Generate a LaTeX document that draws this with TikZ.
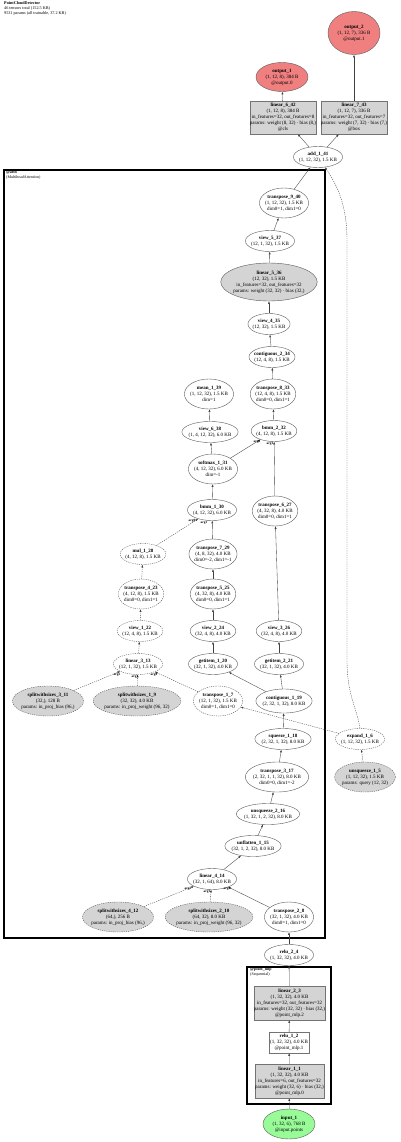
\documentclass[tikz,border=0pt]{standalone}
\usepackage{fontspec}
\setmainfont{Liberation Serif}
\usetikzlibrary{shapes.geometric}
\usetikzlibrary{arrows.meta}

\newcommand{\lbl}[2]{\textbf{#1}\\#2}

\begin{document}
\begin{tikzpicture}[x=1pt, y=-1pt, line width=0.4pt,
    opnode/.style={ellipse, draw=black!65, inner xsep=-1.5pt, inner ysep=0.5pt, minimum height=21, align=center, font=\fontsize{5}{6}\selectfont},
    tall/.style={minimum height=30},
    ghost/.style={dash pattern=on 1.2pt off 1pt},
    withpar/.style={fill=cpar},
    outnode/.style={opnode, fill=cout, minimum width=52},
    modbox/.style={rectangle, draw=black!55, fill=cpar, inner sep=0pt, minimum width=66, minimum height=33, align=center, font=\fontsize{5}{6}\selectfont},
    wire/.style={draw=black!75, line width=0.35pt, -{Latex[length=2.6pt, width=2pt]}},
    arglbl/.style={font=\fontsize{3.4}{4}\selectfont\bfseries, inner sep=0pt},
    clusterbox/.style={draw=black, line width=1.3pt},
    clusterlbl/.style={anchor=north west, align=left, inner sep=0pt, font=\fontsize{4}{4.6}\selectfont}]
    \colorlet{cpar}{black!17}\definecolor{cout}{HTML}{F08080}\definecolor{cin}{HTML}{98FB98}
    \useasboundingbox (0,0) rectangle (400,1142);
    \node[anchor=north west, align=left, inner sep=0pt, font=\fontsize{4.2}{5}\selectfont] (title) at (4,1)
      {\textbf{PointCloudDetector}\\46 tensors total (152.5 KB)\\9531 params (all trainable, 37.2 KB)};
    \draw[clusterbox] (4,170) rectangle (325,938);
    \node[clusterlbl] (attnlbl) at (6,171) {\textbf{@attn}\\(MultiheadAttention)};
    \draw[clusterbox] (247,967) rectangle (331,1104);
    \node[clusterlbl] (mlplbl) at (250,968) {\textbf{@point\_mlp}\\(Sequential)};
    \node[outnode, minimum height=43] (output2) at (354,33) {\lbl{output\_2}{(1, 12, 7), 336 B\\@output.1}};
    \node[outnode, minimum height=29] (output1) at (282,77) {\lbl{output\_1}{(1, 12, 8), 384 B\\@output.0}};
    \node[modbox] (linear642) at (283,117.5) {\lbl{linear\_6\_42}{(1, 12, 8), 384 B\\in\_features=32, out\_features=8\\params: weight (8, 32) · bias (8,)\\@cls}};
    \node[modbox] (linear743) at (354,117.5) {\lbl{linear\_7\_43}{(1, 12, 7), 336 B\\in\_features=32, out\_features=7\\params: weight (7, 32) · bias (7,)\\@box}};
    \node[opnode] (add141) at (318,157) {\lbl{add\_1\_41}{(1, 12, 32), 1.5 KB}};
    \node[opnode, tall] (transpose940) at (284,203) {\lbl{transpose\_9\_40}{(1, 12, 32), 1.5 KB\\dim0=1, dim1=0}};
    \node[opnode] (view537) at (270,241) {\lbl{view\_5\_37}{(12, 1, 32), 1.5 KB}};
    \node[opnode, withpar, minimum height=38] (linear536) at (269,282) {\lbl{linear\_5\_36}{(12, 32), 1.5 KB\\in\_features=32, out\_features=32\\params: weight (32, 32) · bias (32,)}};
    \node[opnode] (view435) at (269,324) {\lbl{view\_4\_35}{(12, 32), 1.5 KB}};
    \node[opnode] (contiguous234) at (272,357) {\lbl{contiguous\_2\_34}{(12, 4, 8), 1.5 KB}};
    \node[opnode, tall] (transpose833) at (273,394) {\lbl{transpose\_8\_33}{(12, 4, 8), 1.5 KB\\dim0=0, dim1=1}};
    \node[opnode, tall] (mean139) at (209,394) {\lbl{mean\_1\_39}{(1, 12, 32), 1.5 KB\\dim=1}};
    \node[opnode] (view638) at (210,432) {\lbl{view\_6\_38}{(1, 4, 12, 32), 6.0 KB}};
    \node[opnode] (bmm232) at (274,431) {\lbl{bmm\_2\_32}{(4, 12, 8), 1.5 KB}};
    \node[opnode, tall] (softmax131) at (213,469) {\lbl{softmax\_1\_31}{(4, 12, 32), 6.0 KB\\dim=-1}};
    \node[opnode] (bmm130) at (212,510) {\lbl{bmm\_1\_30}{(4, 12, 32), 6.0 KB}};
    \node[opnode, tall] (transpose627) at (275,511) {\lbl{transpose\_6\_27}{(4, 32, 8), 4.0 KB\\dim0=0, dim1=1}};
    \node[opnode, ghost] (mul128) at (143,554) {\lbl{mul\_1\_28}{(4, 12, 8), 1.5 KB}};
    \node[opnode, tall] (transpose729) at (213,554) {\lbl{transpose\_7\_29}{(4, 8, 32), 4.0 KB\\dim0=-2, dim1=-1}};
    \node[opnode, tall, ghost] (transpose423) at (141,594) {\lbl{transpose\_4\_23}{(4, 12, 8), 1.5 KB\\dim0=0, dim1=1}};
    \node[opnode, tall] (transpose525) at (213,594) {\lbl{transpose\_5\_25}{(4, 32, 8), 4.0 KB\\dim0=0, dim1=1}};
    \node[opnode, ghost] (view122) at (140,631) {\lbl{view\_1\_22}{(12, 4, 8), 1.5 KB}};
    \node[opnode] (view224) at (213,631) {\lbl{view\_2\_24}{(32, 4, 8), 4.0 KB}};
    \node[opnode] (view326) at (279,631) {\lbl{view\_3\_26}{(32, 4, 8), 4.0 KB}};
    \node[opnode, ghost] (linear313) at (138,664) {\lbl{linear\_3\_13}{(12, 1, 32), 1.5 KB}};
    \node[opnode] (getitem120) at (213,664) {\lbl{getitem\_1\_20}{(32, 1, 32), 4.0 KB}};
    \node[opnode] (getitem221) at (279,664) {\lbl{getitem\_2\_21}{(32, 1, 32), 4.0 KB}};
    \node[opnode, tall, ghost, withpar] (split311) at (48,701) {\lbl{splitwithsizes\_3\_11}{(32,), 128 B\\params: in\_proj\_bias (96,)}};
    \node[opnode, tall, ghost, withpar] (split19) at (137,701) {\lbl{splitwithsizes\_1\_9}{(32, 32), 4.0 KB\\params: in\_proj\_weight (96, 32)}};
    \node[opnode, tall, ghost] (transpose17) at (218,701) {\lbl{transpose\_1\_7}{(12, 1, 32), 1.5 KB\\dim0=1, dim1=0}};
    \node[opnode, minimum height=24] (contiguous119) at (284,701) {\lbl{contiguous\_1\_19}{(2, 32, 1, 32), 8.0 KB}};
    \node[opnode] (squeeze118) at (283,739) {\lbl{squeeze\_1\_18}{(2, 32, 1, 32), 8.0 KB}};
    \node[opnode, tall] (transpose317) at (277,777) {\lbl{transpose\_3\_17}{(2, 32, 1, 1, 32), 8.0 KB\\dim0=0, dim1=-2}};
    \node[opnode] (unsqueeze216) at (268,814) {\lbl{unsqueeze\_2\_16}{(1, 32, 1, 2, 32), 8.0 KB}};
    \node[opnode, ghost] (expand16) at (360,739) {\lbl{expand\_1\_6}{(1, 12, 32), 1.5 KB}};
    \node[opnode, tall, ghost, withpar] (unsqueeze15) at (365,777) {\lbl{unsqueeze\_1\_5}{(1, 12, 32), 1.5 KB\\params: query (12, 32)}};
    \node[opnode] (unflatten115) at (253,846) {\lbl{unflatten\_1\_15}{(32, 1, 2, 32), 8.0 KB}};
    \node[opnode] (linear414) at (212,879) {\lbl{linear\_4\_14}{(32, 1, 64), 8.0 KB}};
    \node[opnode, tall, ghost, withpar] (split412) at (118,917) {\lbl{splitwithsizes\_4\_12}{(64,), 256 B\\params: in\_proj\_bias (96,)}};
    \node[opnode, tall, ghost, withpar] (split210) at (209,917) {\lbl{splitwithsizes\_2\_10}{(64, 32), 8.0 KB\\params: in\_proj\_weight (96, 32)}};
    \node[opnode, tall] (transpose28) at (289,917) {\lbl{transpose\_2\_8}{(32, 1, 32), 4.0 KB\\dim0=1, dim1=0}};
    \node[opnode] (relu24) at (289,955) {\lbl{relu\_2\_4}{(1, 32, 32), 4.0 KB}};
    \node[modbox, minimum width=69, minimum height=34] (linear23) at (289.5,1003) {\lbl{linear\_2\_3}{(1, 32, 32), 4.0 KB\\in\_features=32, out\_features=32\\params: weight (32, 32) · bias (32,)\\@point\_mlp.2}};
    \node[modbox, fill=white, minimum width=40, minimum height=21] (relu12) at (289,1042.5) {\lbl{relu\_1\_2}{(1, 32, 32), 4.0 KB\\@point\_mlp.1}};
    \node[modbox, minimum width=69, minimum height=34] (linear11) at (289.5,1081) {\lbl{linear\_1\_1}{(1, 32, 32), 4.0 KB\\in\_features=6, out\_features=32\\params: weight (32, 6) · bias (32,)\\@point\_mlp.0}};
    \node[opnode, fill=cin, tall, minimum width=52] (input1) at (289,1124) {\lbl{input\_1}{(1, 32, 6), 768 B\\@input.points}};
    \draw[wire] (input1) -- (linear11);
    \draw[wire] (linear11) -- (relu12);
    \draw[wire] (relu12) -- (linear23);
    \draw[wire] (linear23) -- (relu24);
    \draw[wire] (relu24) -- (transpose28);
    \draw[wire] (transpose28) -- (linear414);
    \draw[wire, ghost] (split210) -- (linear414);
    \draw[wire, ghost] (split412) -- (linear414);
    \draw[wire] (linear414) -- (unflatten115);
    \draw[wire] (unflatten115) -- (unsqueeze216);
    \draw[wire] (unsqueeze216) -- (transpose317);
    \draw[wire] (transpose317) -- (squeeze118);
    \draw[wire] (squeeze118) -- (contiguous119);
    \draw[wire] (contiguous119) -- (getitem120);
    \draw[wire] (contiguous119) -- (getitem221);
    \draw[wire] (getitem120) -- (view224);
    \draw[wire] (getitem221) -- (view326);
    \draw[wire] (view224) -- (transpose525);
    \draw[wire] (transpose525) -- (transpose729);
    \draw[wire] (transpose729) -- (bmm130);
    \draw[wire] (view326) -- (transpose627);
    \draw[wire] (transpose627) -- (bmm232);
    \draw[wire, ghost] (unsqueeze15) -- (expand16);
    \draw[wire, ghost] (expand16) -- (transpose17);
    \draw[wire, ghost] (expand16.north) .. controls (356,705) and (347,695) .. (347,660) -- (347,240) .. controls (347,205) and (337,185) .. (add141);
    \draw[wire, ghost] (transpose17) -- (linear313);
    \draw[wire, ghost] (split19) -- (linear313);
    \draw[wire, ghost] (split311) -- (linear313);
    \draw[wire, ghost] (linear313) -- (view122);
    \draw[wire, ghost] (view122) -- (transpose423);
    \draw[wire, ghost] (transpose423) -- (mul128);
    \draw[wire, ghost] (mul128) -- (bmm130);
    \draw[wire] (bmm130) -- (softmax131);
    \draw[wire] (softmax131) -- (bmm232);
    \draw[wire] (softmax131) -- (view638);
    \draw[wire] (view638) -- (mean139);
    \draw[wire] (bmm232) -- (transpose833);
    \draw[wire] (transpose833) -- (contiguous234);
    \draw[wire] (contiguous234) -- (view435);
    \draw[wire] (view435) -- (linear536);
    \draw[wire] (linear536) -- (view537);
    \draw[wire] (view537) -- (transpose940);
    \draw[wire] (transpose940) -- (add141);
    \draw[wire] (add141) -- (linear642);
    \draw[wire] (add141) -- (linear743);
    \draw[wire] (linear642) -- (output1);
    \draw[wire] (linear743) -- (output2);
    \node[arglbl] (a1) at (117,675) {arg2};
    \node[arglbl] (a2) at (135,677) {arg1};
    \node[arglbl] (a3) at (154,675) {arg0};
    \node[arglbl] (a4) at (188,889) {arg2};
    \node[arglbl] (a5) at (207,892) {arg1};
    \node[arglbl] (a6) at (227,889) {arg0};
    \node[arglbl] (a7) at (192,521) {arg0};
    \node[arglbl] (a8) at (204,523) {arg1};
    \node[arglbl] (a9) at (257,442) {arg0};
    \node[arglbl] (a10) at (270,444) {arg1};
\end{tikzpicture}
\end{document}
